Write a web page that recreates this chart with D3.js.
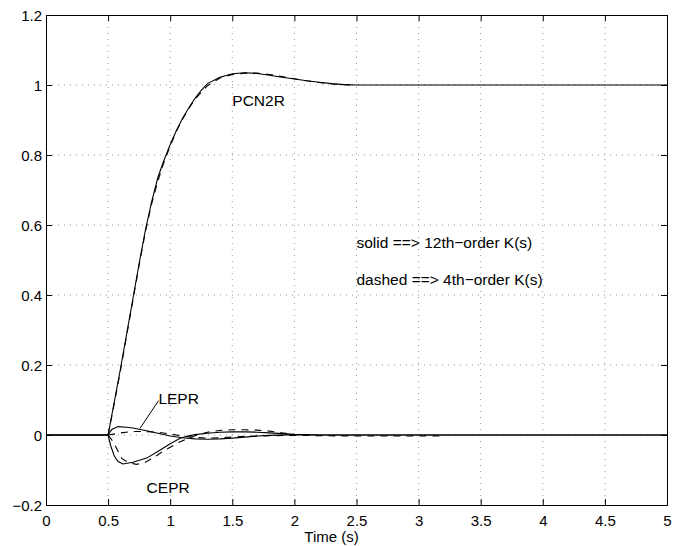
<!DOCTYPE html>
<html>
<head>
<meta charset="utf-8">
<script src="https://cdn.jsdelivr.net/npm/d3@7"></script>
<style>
  body { margin: 0; background: #fff; }
  svg { font-family: "Liberation Sans", Arial, Helvetica, sans-serif; }
</style>
</head>
<body>
<svg id="chart" width="673" height="546"></svg>
<script>
// tick labels
const xTicks = [0, 0.5, 1, 1.5, 2, 2.5, 3, 3.5, 4, 4.5, 5];
const xTickLabels = ["0", "0.5", "1", "1.5", "2", "2.5", "3", "3.5", "4", "4.5", "5"];
const yTicks = [-0.2, 0, 0.2, 0.4, 0.6, 0.8, 1, 1.2];
const yTickLabels = ["\u22120.2", "0", "0.2", "0.4", "0.6", "0.8", "1", "1.2"];

// PCN2R, 12th-order K (solid)
const pcnSolidT = [0, 0.5, 0.55, 0.6, 0.65, 0.7, 0.75, 0.8, 0.85, 0.9, 0.95, 1.0, 1.05, 1.1, 1.15, 1.2, 1.25, 1.3, 1.4, 1.5, 1.6, 1.7, 1.8, 1.9, 2.0, 2.1, 2.2, 2.3, 2.4, 2.5, 5];
const pcnSolidY = [0, 0, 0.095, 0.19, 0.29, 0.39, 0.49, 0.585, 0.665, 0.735, 0.785, 0.83, 0.87, 0.905, 0.935, 0.962, 0.985, 1.004, 1.022, 1.032, 1.035, 1.033, 1.028, 1.022, 1.017, 1.012, 1.008, 1.004, 1.001, 1.0, 1.0];
// PCN2R, 4th-order K (dashed)
const pcnDashT = [0.5, 0.55, 0.6, 0.65, 0.7, 0.75, 0.8, 0.85, 0.9, 0.95, 1.0, 1.05, 1.1, 1.15, 1.2, 1.3, 1.4, 1.5, 1.6, 1.7, 1.8, 1.9, 2.0, 2.1, 2.2, 2.3, 2.4, 2.5];
const pcnDashY = [0, 0.09, 0.185, 0.285, 0.385, 0.485, 0.58, 0.66, 0.725, 0.78, 0.825, 0.868, 0.903, 0.933, 0.96, 0.998, 1.02, 1.03, 1.034, 1.034, 1.03, 1.024, 1.018, 1.012, 1.007, 1.003, 1.001, 1.0];

// LEPR
const leprSolidT = [0, 0.5, 0.53, 0.58, 0.65, 0.7, 0.8, 0.9, 1.0, 1.1, 1.2, 1.3, 1.4, 1.5, 1.6, 1.7, 1.8, 2.0, 2.2, 5];
const leprSolidY = [0, 0, 0.016, 0.024, 0.022, 0.02, 0.013, 0.005, -0.003, -0.008, -0.011, -0.012, -0.011, -0.009, -0.006, -0.003, -0.001, 0.001, 0, 0];
const leprDashT = [0.5, 0.6, 0.7, 0.8, 0.9, 1.0, 1.1, 1.2, 1.3, 1.4, 1.5, 1.6, 1.8, 2.0, 2.2, 2.5, 2.8, 3.2];
const leprDashY = [0, 0.006, 0.01, 0.01, 0.008, 0.003, -0.003, -0.007, -0.009, -0.008, -0.006, -0.004, -0.002, -0.001, -0.002, -0.003, -0.003, -0.003];

// CEPR
const ceprSolidT = [0, 0.5, 0.52, 0.55, 0.58, 0.62, 0.7, 0.81, 0.9, 1.0, 1.08, 1.15, 1.2, 1.3, 1.4, 1.5, 1.6, 1.7, 1.8, 1.9, 2.0, 2.2, 5];
const ceprSolidY = [0, 0, -0.03, -0.06, -0.076, -0.083, -0.078, -0.066, -0.047, -0.025, -0.009, -0.002, 0.001, 0.005, 0.008, 0.009, 0.009, 0.008, 0.006, 0.004, 0.002, 0, 0];
const ceprDashT = [0.5, 0.54, 0.61, 0.67, 0.73, 0.8, 0.86, 0.95, 1.08, 1.2, 1.3, 1.4, 1.5, 1.6, 1.7, 1.8, 1.9, 2.0, 2.1];
const ceprDashY = [0, -0.019, -0.067, -0.08, -0.084, -0.078, -0.066, -0.045, -0.019, -0.002, 0.008, 0.013, 0.015, 0.015, 0.014, 0.011, 0.006, 0.002, 0];

const margin = {top: 15, right: 6, bottom: 41, left: 46},
  width = 673 - margin.left - margin.right,
  height = 546 - margin.top - margin.bottom;

const svg = d3.select("#chart");
const g = svg.append("g")
  .attr("transform", "translate(" + margin.left + "," + margin.top + ")");

const x = d3.scaleLinear().domain([0, 5]).range([0, width]);
const y = d3.scaleLinear().domain([-0.2, 1.2]).range([height, 0]);

// dotted grid
g.append("g").selectAll("line").data(xTicks.slice(1, -1)).enter().append("line")
  .attr("x1", d => x(d)).attr("x2", d => x(d))
  .attr("y1", 0).attr("y2", height)
  .attr("stroke", "#999").attr("stroke-dasharray", "1,5");
g.append("g").selectAll("line").data(yTicks.slice(1, -1)).enter().append("line")
  .attr("y1", d => y(d)).attr("y2", d => y(d))
  .attr("x1", 0).attr("x2", width)
  .attr("stroke", "#999").attr("stroke-dasharray", "1,5");

// axes, ticks pointing inside, labels
const tk = 6;
g.append("g")
  .attr("transform", "translate(0," + height + ")")
  .call(d3.axisBottom(x).tickValues(xTicks).tickSize(-tk).tickPadding(10)
    .tickFormat((d, i) => xTickLabels[i]));
g.append("g")
  .call(d3.axisTop(x).tickValues(xTicks).tickSize(-tk).tickFormat(""));
const yAxis = g.append("g")
  .call(d3.axisLeft(y).tickValues(yTicks).tickSize(-tk).tickPadding(4)
    .tickFormat((d, i) => yTickLabels[i]));
g.append("g")
  .attr("transform", "translate(" + width + ",0)")
  .call(d3.axisRight(y).tickValues(yTicks).tickSize(-tk).tickFormat(""));
g.selectAll(".domain").attr("stroke", "#000");
g.selectAll(".tick line").attr("stroke", "#000");
g.selectAll(".tick text").attr("font-size", 15).attr("fill", "#000")
  .attr("font-family", "'Liberation Sans', Arial, sans-serif");
yAxis.selectAll(".tick text").attr("dy", "0.35em");

// curves
const line = d3.line().x(d => x(d[0])).y(d => y(d[1]));
const series = [
  [pcnSolidT, pcnSolidY, null],
  [leprSolidT, leprSolidY, null],
  [ceprSolidT, ceprSolidY, null],
  [pcnDashT, pcnDashY, "7,6"],
  [leprDashT, leprDashY, "7,6"],
  [ceprDashT, ceprDashY, "7,6"]
];
series.forEach(s => {
  g.append("path")
    .datum(s[0].map((t, i) => [t, s[1][i]]))
    .attr("fill", "none")
    .attr("stroke", "#000")
    .attr("stroke-width", 1.1)
    .attr("stroke-dasharray", s[2])
    .attr("d", line);
});

// labels
const txt = (tx, ty, s) => g.append("text")
  .attr("x", x(tx)).attr("y", y(ty))
  .attr("font-size", 15.5)
  .text(s);
txt(1.5, 0.94, "PCN2R");
txt(0.905, 0.09, "LEPR");
txt(0.81, -0.166, "CEPR");
txt(2.5, 0.534, "solid ==> 12th\u2212order K(s)");
txt(2.5, 0.429, "dashed ==> 4th\u2212order K(s)");

g.append("line")
  .attr("x1", x(0.906)).attr("y1", y(0.098))
  .attr("x2", x(0.757)).attr("y2", y(0.019))
  .attr("stroke", "#000");

svg.append("text")
  .attr("x", margin.left + x(2.5) - 25).attr("y", 542)
  .attr("font-size", 15).attr("text-anchor", "middle")
  .text("Time (s)");
</script>
</body>
</html>
